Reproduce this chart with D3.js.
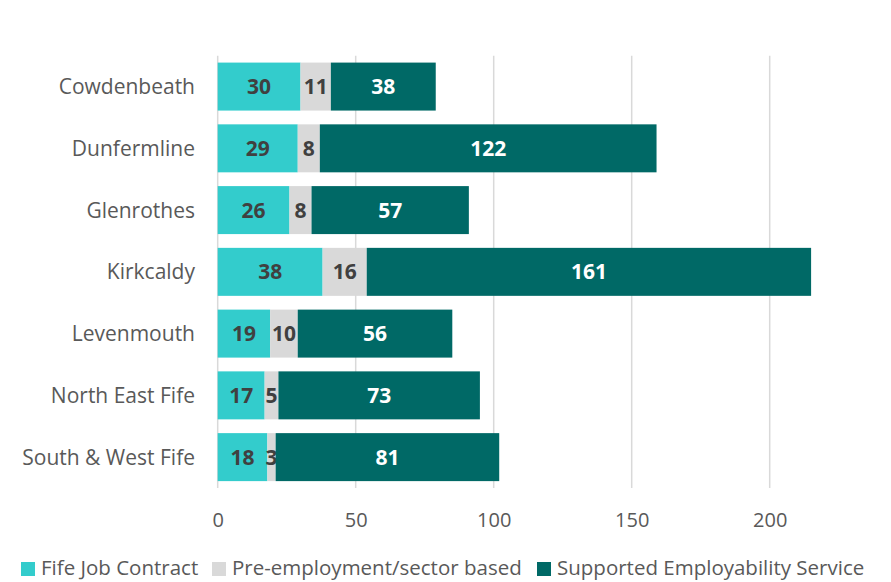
<!DOCTYPE html>
<html><head><meta charset="utf-8">
<script src="https://cdn.jsdelivr.net/npm/d3@7"></script>
<style>body{margin:0;background:#fff;} svg{display:block;}</style>
</head><body>
<svg id="c" width="891" height="582"></svg>
<script>
const categories = ["Cowdenbeath","Dunfermline","Glenrothes","Kirkcaldy","Levenmouth","North East Fife","South & West Fife"];
const seriesNames = ["Fife Job Contract","Pre-employment/sector based","Supported Employability Service"];
const fifeJob = [30,29,26,38,19,17,18];
const preEmp = [11,8,8,16,10,5,3];
const supported = [38,122,57,161,56,73,81];
const xTicks = [0,50,100,150,200];
const colors = ["#33CCCC","#D9D9D9","#006966"];
const labelColors = ["#404040","#404040","#FFFFFF"];

const svg = d3.select("#c");
const font = "'Open Sans', sans-serif";
const x = d3.scaleLinear().domain([0,200]).range([217.7,769.7]);
const y = d3.scaleBand().domain(categories).range([55.7,488]).paddingInner(0.223).paddingOuter(0.1115);

// gridlines
svg.append("g").selectAll("line").data(xTicks).join("line")
  .attr("x1",d=>x(d)).attr("x2",d=>x(d)).attr("y1",55.7).attr("y2",488)
  .attr("stroke","#D9D9D9").attr("stroke-width",1.5);

const table = categories.map((c,i)=>({cat:c, vals:[fifeJob[i],preEmp[i],supported[i]]}));
const stackData = d3.stack().keys([0,1,2]).value((d,k)=>d.vals[k])(table);

stackData.forEach((layer,k)=>{
  const g = svg.append("g");
  g.selectAll("rect").data(layer).join("rect")
    .attr("x",d=>x(d[0])).attr("width",d=>x(d[1])-x(d[0]))
    .attr("y",d=>y(d.data.cat)).attr("height",y.bandwidth())
    .attr("fill",colors[k]);
  g.selectAll("text").data(layer).join("text")
    .attr("x",d=>(x(d[0])+x(d[1]))/2).attr("y",d=>y(d.data.cat)+y.bandwidth()/2)
    .attr("dy","0.36em").attr("text-anchor","middle")
    .attr("font-family",font).attr("font-weight","bold").attr("font-size",21)
    .attr("fill",labelColors[k]).text(d=>d.data.vals[k]);
});

// category axis labels
svg.append("g").selectAll("text").data(categories).join("text")
  .attr("x",195).attr("y",d=>y(d)+y.bandwidth()/2).attr("dy","0.36em")
  .attr("text-anchor","end").attr("font-family",font).attr("font-size",21)
  .attr("fill","#595959").text(d=>d);

// x axis tick labels
const xAxis = d3.axisBottom(x).tickValues(xTicks).tickSize(0).tickPadding(0);
const ax = svg.append("g").attr("transform","translate(0,520)").call(xAxis);
ax.select(".domain").remove();
ax.selectAll("text").attr("font-family",font).attr("font-size",20).attr("fill","#595959").attr("dy","0.36em");

// legend
const leg = svg.append("g").attr("transform","translate(0,568)");
const legX = [21,212,537];
seriesNames.forEach((n,k)=>{
  leg.append("rect").attr("x",legX[k]).attr("y",-6).attr("width",14).attr("height",14).attr("fill",colors[k]);
  leg.append("text").attr("x",legX[k]+20).attr("y",0).attr("dy","0.36em")
    .attr("font-family",font).attr("font-size",20.5).attr("fill","#595959").text(n);
});
</script>
</body></html>
